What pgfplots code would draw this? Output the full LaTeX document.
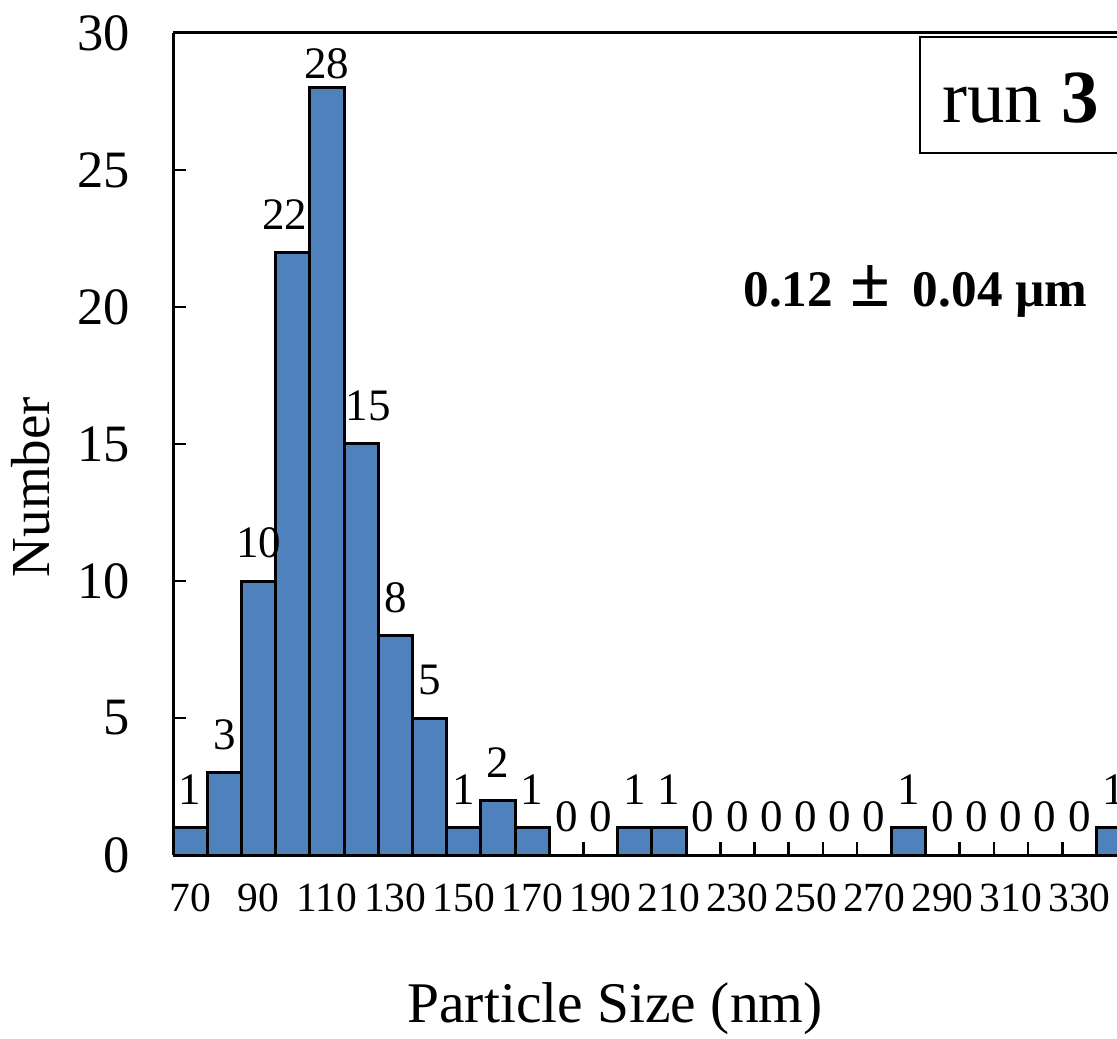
\documentclass[border=0pt]{standalone}
\usepackage{fontspec}
\setmainfont{Liberation Serif}
\usepackage{pgfplots}
\pgfplotsset{compat=1.18}
\definecolor{barblue}{RGB}{79,129,189}
\begin{document}
\begin{tikzpicture}[x=1pt,y=1pt]
\begin{axis}[
  at={(69.2pt,73.2pt)}, anchor=south west,
  width=377.6pt, height=328.8pt, scale only axis,
  xmin=-0.5, xmax=27.1, ymin=0, ymax=30,
  axis x line*=box, axis y line*=left,
  xtick pos=left, ytick pos=left,
  axis line style={line width=1.2pt},
  tick align=inside,
  major tick length=5.2pt,
  tick style={line width=1pt, black},
  xtick={-0.5,0.5,...,26.5}, xticklabels={},
  extra x ticks={0,2,...,26},
  extra x tick labels={70,90,110,130,150,170,190,210,230,250,270,290,310,330},
  extra x tick style={major tick length=0pt},
  xticklabel style={font=\fontsize{16.6}{17}\selectfont, inner sep=0pt, anchor=north, yshift=-11.2pt},
  ytick={0,5,...,30},
  yticklabel style={font=\fontsize{21}{21}\selectfont, inner sep=0pt, anchor=east, xshift=-17.2pt},
  /pgf/number format/assume math mode=true,
]
\addplot[ybar, bar width=1, fill=barblue, draw=black, line width=1.2pt,
  visualization depends on={rawy \as \ry},
  nodes near coords,
  every node near coord/.append style={font=\fontsize{18}{18}\selectfont, inner sep=0pt, black,
    yshift={8.5pt-5.5pt*(\ry>27)},
    xshift={-3.2pt*(\ry==22)+2.8pt*(\ry==15)}}]
coordinates {
(0,1) (1,3) (2,10) (3,22) (4,28) (5,15) (6,8) (7,5) (8,1) (9,2)
(10,1) (11,0) (12,0) (13,1) (14,1) (15,0) (16,0) (17,0) (18,0) (19,0)
(20,0) (21,1) (22,0) (23,0) (24,0) (25,0) (26,0) (27,1)
};
\end{axis}
\node[rotate=90, inner sep=0pt, font=\fontsize{22}{22}\selectfont] at (12.4,220.4) {Number};
\node[anchor=base, inner sep=0pt, font=\fontsize{23}{23}\selectfont] at (246,6.4) {Particle Size (nm)};
\node[anchor=base west, inner sep=0pt, font=\fontsize{20.5}{21}\selectfont\bfseries] at (297.2,292.4) {0.12\hspace{7pt}{\fontsize{29}{29}\selectfont ±}\hspace{9pt}0.04 µm};
\draw[line width=0.8pt] (368,354) rectangle (470,400.4);
\node[anchor=base west, inner sep=0pt, font=\fontsize{30}{30}\selectfont] at (376.8,366) {run \textbf{3}};
\pgfresetboundingbox
\useasboundingbox (0,0) rectangle (446.8,415.2);
\end{tikzpicture}
\end{document}
